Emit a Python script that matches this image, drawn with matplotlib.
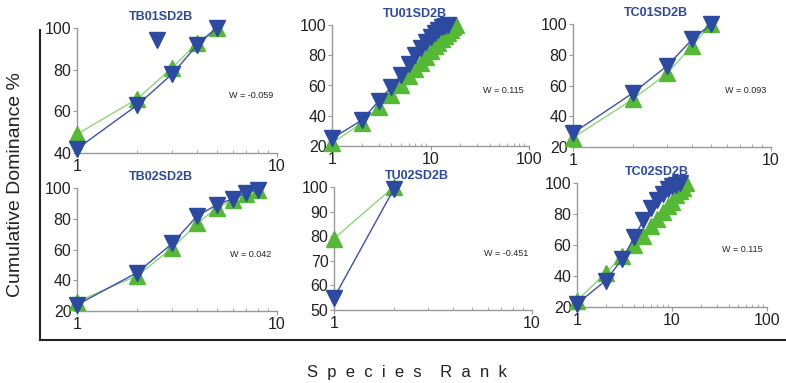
#!/usr/bin/env python3

import numpy as np
import matplotlib
matplotlib.use("Agg")
import matplotlib.pyplot as plt
from matplotlib.ticker import LogLocator, NullFormatter, FixedLocator, FuncFormatter

plt.rcParams['font.family'] = ['Liberation Sans', 'DejaVu Sans']

# panel names and W statistics
names = ["TB01SD2B", "TU01SD2B", "TC01SD2B", "TB02SD2B", "TU02SD2B", "TC02SD2B"]
w_vals = ["-0.059", "0.115", "0.093", "0.042", "-0.451", "0.115"]

# cumulative dominance, green (up triangles) and blue (down triangles)
green = [
    [49, 66, 81, 93, 100],
    [22, 35, 46, 54, 60, 66, 71, 75, 79, 83, 86, 88, 91, 93, 95, 97, 99, 100],
    [26, 51, 68, 86, 100],
    [26, 43, 61, 77, 87, 92, 96, 99],
    [79, 100],
    [24, 42, 53, 60, 66, 72, 77, 81, 85, 88, 92, 95, 97, 100],
]
blue = [
    [42, 63, 78, 92, 100],
    [25, 37, 50, 59, 67, 74, 80, 85, 89, 92, 95, 97, 98.5, 99.5, 100],
    [29, 55, 73, 90, 100],
    [24, 45, 64, 82, 89, 93, 97, 99],
    [55, 99],
    [22, 37, 51, 65, 76, 84, 89, 93, 96, 98, 99, 100],
]
# stray blue marker in the first panel
stray_x = [2.5]
stray_y = [94]

# axis limits
x_max = [10, 100, 10, 10, 10, 100]
y_min = [40, 20, 20, 20, 50, 20]
y_step = [20, 20, 20, 20, 10, 20]

# panel boxes in pixels: left, top, right, bottom
boxes = [
    (77, 28, 277, 153),
    (332, 25, 529, 146),
    (573, 24, 771, 147),
    (77, 188, 277, 311),
    (334, 187, 532, 310),
    (577, 183, 767, 307),
]

W, H = 786, 383
fig = plt.figure(figsize=(W / 100, H / 100), dpi=100)

def rect(l, t, r, b):
    return [l / W, 1 - b / H, (r - l) / W, (b - t) / H]

# outer L frame
bg = fig.add_axes(rect(40, 30, 785, 340))
bg.set_xticks([])
bg.set_yticks([])
for s in ["top", "right"]:
    bg.spines[s].set_visible(False)
for s in ["left", "bottom"]:
    bg.spines[s].set_color("#222222")
    bg.spines[s].set_linewidth(1.5)
bg.patch.set_alpha(0)

fig.text(16 / W, 1 - 185 / H, "Cumulative Dominance %", rotation=90,
         ha="center", va="center", fontsize=14, color="#222222")
fig.text(407 / W, 1 - 372 / H, "S  p  e  c  i  e  s    R  a  n  k",
         ha="center", va="center", fontsize=12, color="#222222")

gcol = "#55b935"
bcol = "#2c4aa0"

for i in range(6):
    ax = fig.add_axes(rect(*boxes[i]))
    xg = np.arange(1, len(green[i]) + 1)
    xb = np.arange(1, len(blue[i]) + 1)
    ax.plot(xg, green[i], "-", color="#8fd47a", lw=1.0, zorder=2)
    ax.plot(xg, green[i], "^", color=gcol, ms=11, mec=gcol, zorder=3)
    ax.plot(xb, blue[i], "-", color="#3b4fb5", lw=1.0, zorder=4)
    ax.plot(xb, blue[i], "v", color=bcol, ms=11, mec=bcol, zorder=5)
    if i == 0:
        ax.plot(stray_x, stray_y, "v", color=bcol, ms=12, mec=bcol, zorder=5)
    ax.set_xscale("log")
    ax.set_xlim(1, x_max[i])
    ax.set_ylim(y_min[i], 100)
    ax.yaxis.set_major_locator(FixedLocator(np.arange(y_min[i], 101, y_step[i])))
    ax.xaxis.set_major_locator(LogLocator(base=10))
    ax.xaxis.set_minor_locator(LogLocator(base=10, subs=np.arange(2, 10)))
    ax.xaxis.set_minor_formatter(NullFormatter())
    ax.xaxis.set_major_formatter(FuncFormatter(lambda v, p: "%d" % v))
    for s in ["top", "right"]:
        ax.spines[s].set_visible(False)
    for s in ["left", "bottom"]:
        ax.spines[s].set_color("#999999")
        ax.spines[s].set_linewidth(1.0)
    ax.tick_params(axis="both", which="major", length=3, width=0.8, color="#999999",
                   labelsize=11.5, labelcolor="#222222", pad=1)
    ax.tick_params(axis="x", which="minor", direction="in", length=2.5, width=0.6,
                   color="#999999")
    ax.patch.set_alpha(0)
    ax.text(0.42, 1.09, names[i], transform=ax.transAxes, ha="center", va="center",
            fontsize=9, fontweight="bold", color="#2c4aa0")
    ax.text(0.87, 0.46, "W = " + w_vals[i], transform=ax.transAxes, ha="center",
            va="center", fontsize=6.5, color="#222222")
    for m in ax.lines:
        m.set_clip_on(False)

fig.savefig("out.png", dpi=100)
